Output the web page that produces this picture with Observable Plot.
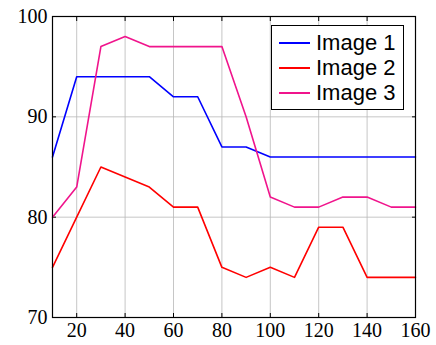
<!DOCTYPE html>
<html><head><meta charset="utf-8">
<script src="https://cdn.jsdelivr.net/npm/d3@7"></script>
<script src="https://cdn.jsdelivr.net/npm/@observablehq/plot@0.6"></script>
<style>
body{margin:0;background:#fff;}
#wrap{position:relative;width:436px;height:345px;}
#legend{position:absolute;left:271px;top:25px;width:131px;height:83px;border:1px solid #000;background:#fff;font-family:"Liberation Sans",Arial,sans-serif;font-size:22px;box-sizing:content-box;}
.row{position:absolute;left:7px;height:24px;display:flex;align-items:center;}
.sw{width:31px;height:2px;margin-right:6px;}
</style></head>
<body><div id="wrap"></div>
<script>
const xs = [10,20,30,40,50,60,70,80,90,100,110,120,130,140,150,160];
const image1 = [86,94,94,94,94,92,92,87,87,86,86,86,86,86,86,86];
const image2 = [75,80,85,84,83,81,81,75,74,75,74,79,79,74,74,74];
const image3 = [80,83,97,98,97,97,97,97,90,82,81,81,82,82,81,81];
const seriesNames = ["Image 1","Image 2","Image 3"];
const colors = ["#0000ff","#ff0000","#f0148c"];
const xTicks = [20,40,60,80,100,120,140,160];
const yTicks = [70,80,90,100];

const seriesVals = [image1,image2,image3];
const data = [];
seriesVals.forEach((vals,si)=>vals.forEach((v,i)=>data.push({x:xs[i],y:v,s:seriesNames[si]})));

const font = '"Liberation Serif","DejaVu Serif",serif';
const chart = Plot.plot({
  width:436,height:345,
  marginLeft:52,marginRight:21,marginTop:16,marginBottom:28,
  style:{fontFamily:font,fontSize:"20px",background:"white",color:"black"},
  x:{domain:[10,160]},
  y:{domain:[70,100]},
  color:{domain:seriesNames,range:colors},
  marks:[
    Plot.gridX(xTicks,{stroke:"#b8b8b8",strokeOpacity:1,strokeWidth:0.8}),
    Plot.gridY(yTicks,{stroke:"#b8b8b8",strokeOpacity:1,strokeWidth:0.8}),
    Plot.axisX(xTicks,{anchor:"bottom",tickSize:-4,tickPadding:9,label:null,fontSize:20}),
    Plot.axisX(xTicks,{anchor:"top",tickSize:-4,text:null,label:null}),
    Plot.axisY(yTicks,{anchor:"left",tickSize:-4,tickPadding:9,label:null,fontSize:20}),
    Plot.axisY(yTicks,{anchor:"right",tickSize:-4,text:null,label:null}),
    Plot.line(data,{x:"x",y:"y",z:"s",stroke:"s",strokeWidth:1.6}),
    Plot.frame({stroke:"black",strokeWidth:1.2})
  ]
});
const wrap=document.getElementById("wrap");
wrap.appendChild(chart);
const lg=document.createElement("div");lg.id="legend";
seriesNames.forEach((n,i)=>{
  const r=document.createElement("div");r.className="row";r.style.top=(5+i*25)+"px";
  const sw=document.createElement("div");sw.className="sw";sw.style.background=colors[i];
  const t=document.createElement("span");t.textContent=n;
  r.appendChild(sw);r.appendChild(t);lg.appendChild(r);
});
wrap.appendChild(lg);
</script></body></html>
